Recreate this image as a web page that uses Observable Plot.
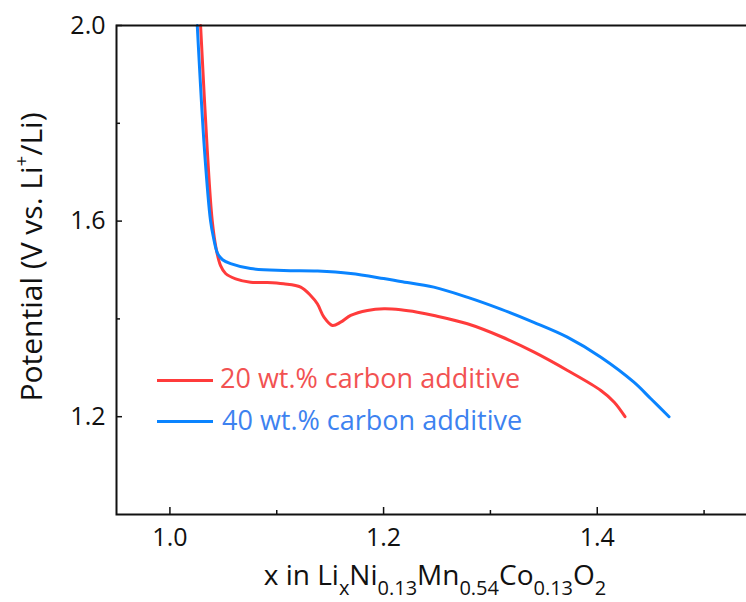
<!DOCTYPE html>
<html><head><meta charset="utf-8">
<script src="https://cdn.jsdelivr.net/npm/d3@7"></script>
<script src="https://cdn.jsdelivr.net/npm/@observablehq/plot@0.6"></script>
<style>
body{margin:0;background:#fff;font-family:"Open Sans",sans-serif;overflow:hidden;}
#wrap{position:relative;width:746px;height:602px;overflow:hidden;background:#fff;}
#wrap svg{position:absolute;left:0;top:0;max-width:none !important;}
.ov{position:absolute;white-space:nowrap;line-height:1;color:#111;}
.sb{position:relative;top:10px;font-size:20px;}
.sp{position:relative;top:-14px;font-size:19px;}
.lg-line{position:absolute;height:3px;}
</style></head><body><div id="wrap"></div>
<script>
const seriesNames = ["20 wt.% carbon additive", "40 wt.% carbon additive"];
const seriesColors = ["#ff3b3b", "#0a84ff"];
const labelColors = ["#f25252", "#3d82f0"];

// 20 wt.% carbon additive
const x20 = [1.0287, 1.035, 1.0396, 1.0436, 1.0474, 1.0521, 1.0615, 1.0755, 1.0912, 1.1064, 1.1224, 1.1317, 1.138, 1.1442, 1.1521, 1.1598, 1.1692, 1.1849, 1.2004, 1.216, 1.2317, 1.2472, 1.2785, 1.3097, 1.3409, 1.3722, 1.4034, 1.4159, 1.426];
const v20 = [2.0, 1.744, 1.601, 1.54, 1.509, 1.4928, 1.482, 1.475, 1.4744, 1.4717, 1.4649, 1.4479, 1.4309, 1.4035, 1.3865, 1.3933, 1.407, 1.4172, 1.4206, 1.4186, 1.4137, 1.407, 1.39, 1.364, 1.3319, 1.2945, 1.2536, 1.2297, 1.2];
// 40 wt.% carbon additive
const x40 = [1.0256, 1.0324, 1.038, 1.0409, 1.0446, 1.0493, 1.0568, 1.0755, 1.1064, 1.1383, 1.1692, 1.2001, 1.216, 1.247, 1.2788, 1.3097, 1.3406, 1.372, 1.4034, 1.4343, 1.4502, 1.4672];
const v40 = [2.0, 1.744, 1.601, 1.565, 1.534, 1.521, 1.513, 1.503, 1.499, 1.498, 1.493, 1.4825, 1.4765, 1.465, 1.444, 1.42, 1.393, 1.3627, 1.3217, 1.2706, 1.2366, 1.2];

const xDomain = [0.95, 1.55];
const yDomain = [1.0, 2.0];
const xMajor = [1.0, 1.2, 1.4];
const xMinor = [1.1, 1.3, 1.5];
const yMajor = [1.2, 1.6, 2.0];
const yMinor = [1.4, 1.8];

const rows = [
  ...x20.map((x, i) => ({series: seriesNames[0], x, v: v20[i]})),
  ...x40.map((x, i) => ({series: seriesNames[1], x, v: v40[i]}))
];

const W = 757, H = 602, mL = 116, mT = 25, mB = 88, mR = 0;
const plotH = H - mT - mB, plotW = W - mL - mR;

const chart = Plot.plot({
  width: W, height: H,
  marginLeft: mL, marginTop: mT, marginBottom: mB, marginRight: mR,
  style: {fontFamily: "Open Sans", fontSize: "25px", color: "#111", background: "white", overflow: "visible", maxWidth: "none"},
  x: {domain: xDomain},
  y: {domain: yDomain},
  color: {domain: seriesNames, range: seriesColors},
  marks: [
    Plot.axisX(xMajor, {tickSize: 0, tickPadding: 14, tickFormat: d3.format(".1f"), label: null, fontSize: 25}),
    Plot.axisY(yMajor, {tickSize: 0, tickPadding: 11, tickFormat: d3.format(".1f"), label: null, fontSize: 25}),
    Plot.tickX(xMajor, {x: d => d, insetTop: plotH - 7, strokeWidth: 1.5, stroke: "#111"}),
    Plot.tickX(xMinor, {x: d => d, insetTop: plotH - 4, strokeWidth: 1.5, stroke: "#111"}),
    Plot.tickY(yMajor, {y: d => d, insetRight: plotW - 6, strokeWidth: 1.5, stroke: "#111"}),
    Plot.tickY(yMinor, {y: d => d, insetRight: plotW - 4, strokeWidth: 1.5, stroke: "#111"}),
    Plot.line(rows, {x: "x", y: "v", z: "series", stroke: "series", strokeWidth: 3, curve: "catmull-rom"}),
    Plot.frame({stroke: "#111", strokeWidth: 2})
  ]
});

const wrap = document.getElementById("wrap");
chart.style.maxWidth = "none";
wrap.appendChild(chart);

// axis titles
const xt = document.createElement("div");
xt.className = "ov";
xt.style.cssText = "left:435px;top:560px;font-size:28px;transform:translateX(-50%);";
xt.innerHTML = 'x in Li<span class="sb">x</span>Ni<span class="sb">0.13</span>Mn<span class="sb">0.54</span>Co<span class="sb">0.13</span>O<span class="sb">2</span>';
wrap.appendChild(xt);

const yt = document.createElement("div");
yt.className = "ov";
yt.style.cssText = "left:31px;top:257px;font-size:30px;transform:translate(-50%,-50%) rotate(-90deg);";
yt.innerHTML = 'Potential (V vs. Li<span class="sp">+</span>/Li)';
wrap.appendChild(yt);

// legend
const lgPos = [{lineTop: 379, textTop: 364, textLeft: 220}, {lineTop: 420, textTop: 406, textLeft: 222}];
seriesNames.forEach((name, i) => {
  const ln = document.createElement("div");
  ln.className = "lg-line";
  ln.style.cssText = `left:157px;width:56px;top:${lgPos[i].lineTop}px;background:${seriesColors[i]};`;
  wrap.appendChild(ln);
  const tx = document.createElement("div");
  tx.className = "ov";
  tx.style.cssText = `left:${lgPos[i].textLeft}px;top:${lgPos[i].textTop}px;font-size:27px;color:${labelColors[i]};`;
  tx.textContent = name;
  wrap.appendChild(tx);
});
</script>
</body></html>
